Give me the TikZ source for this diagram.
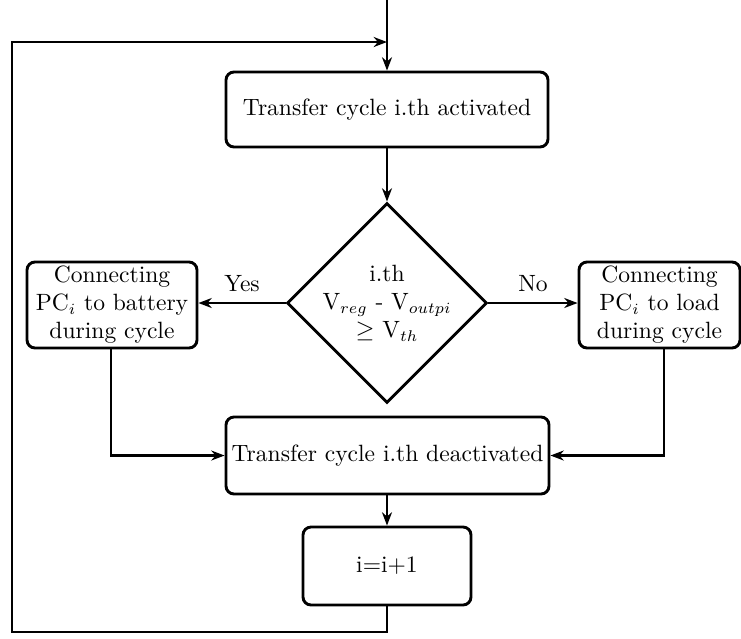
\documentclass[tikz,border=0pt]{standalone}
\usetikzlibrary{shapes.geometric,arrows.meta}
\begin{document}
\begin{tikzpicture}[x=0.45pt,y=-0.45pt,
  every path/.style={line width=1.3pt},
  every node/.style={font=\fontsize{10.6}{12.6}\selectfont},
  arr/.style={-{Stealth[length=6pt,width=4.5pt]}},
  boxs/.style={draw,rounded corners=3.6pt,align=center,inner sep=1pt,line width=1.3pt},
  dec/.style={draw,diamond,aspect=1,minimum width=90pt,minimum height=90pt,inner sep=-3pt,align=center,line width=1.3pt}]
\useasboundingbox (0,0) rectangle (741,638);
\node[boxs,minimum width=144.9pt,minimum height=33.75pt] (act) at (387,109.5) {Transfer cycle i.th activated};
\node[dec] (dia) at (387,303) {i.th\\ V$_{reg}$ - V$_{outpi}$\\ $\geq$ V$_{th}$};
\node[boxs,minimum width=76.5pt,minimum height=38.7pt] (bat) at (112,305) {Connecting\\ PC$_i$ to battery\\ during cycle};
\node[boxs,minimum width=72.45pt,minimum height=38.7pt] (load) at (659.5,305) {Connecting\\ PC$_i$ to load\\ during cycle};
\node[boxs,minimum width=145.35pt,minimum height=34.65pt] (deact) at (387.5,455.5) {Transfer cycle i.th deactivated};
\node[boxs,minimum width=75.6pt,minimum height=35.1pt] (inc) at (387,566) {i=i+1};
\coordinate (top) at (387,0);
\coordinate (merge) at (387,42);
\coordinate (bl) at (12,632);
\coordinate (tl) at (12,42);
\draw[arr] (top) -- (act.north);
\draw[arr] (act.south) -- (dia.north);
\draw[arr] (dia.west) -- node[above=1pt] (yes) {Yes} (dia.west -| bat.east);
\draw[arr] (dia.east) -- node[above=1pt] (no) {No} (dia.east -| load.west);
\draw[arr] (bat.south -| 111,0) |- (deact.west);
\draw[arr] (load.south -| 664,0) |- (deact.east);
\draw[arr] (deact.south -| inc.north) -- (inc.north);
\draw[arr] (inc.south) |- (bl) -- (tl) -- (merge);
\end{tikzpicture}
\end{document}
